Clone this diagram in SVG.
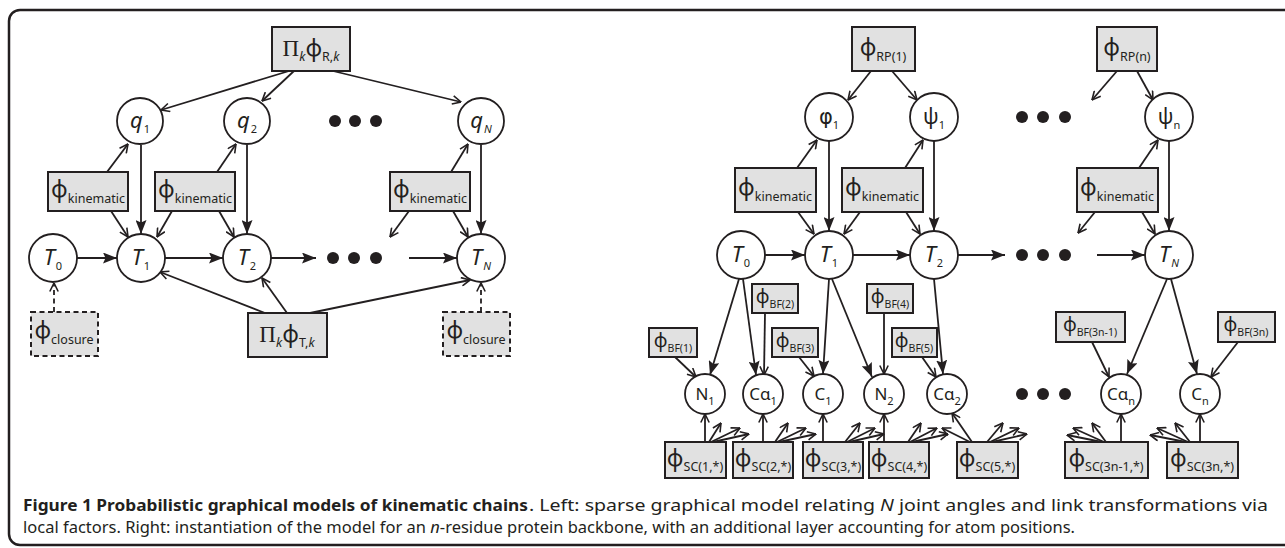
<svg xmlns="http://www.w3.org/2000/svg" width="1285" height="548" viewBox="0 0 1285 548">
<style>
text{font-family:"Noto Sans","Open Sans",sans-serif;fill:#231f20}
.ln{stroke:#231f20;stroke-width:1.8;fill:none}
.o{marker-end:url(#ao)}
.f{marker-end:url(#af)}
.d{stroke-dasharray:5 3.5}
.cir{fill:#fff;stroke:#231f20;stroke-width:1.8}
.box{fill:#e1e1e1;stroke:#231f20;stroke-width:2}
.dbox{fill:#e1e1e1;stroke:#231f20;stroke-width:2;stroke-dasharray:5 3.5}
.ph{font-size:23px}
.phs{font-size:19px}
.sb{font-size:12.5px}
.sbs{font-size:10.5px}
.var{font-size:22px;font-style:italic}
.gv{font-size:21px}
.gf{font-size:21px;font-family:"DejaVu Sans",sans-serif}
.at{font-size:17px}
.n{font-size:11px}
.it{font-style:italic}
.pi{font-family:"Liberation Serif",serif;font-size:23px}
.dot{fill:#231f20}
</style>
<defs>
<marker id="ao" viewBox="0 0 10 10" refX="9.5" refY="5" markerWidth="10" markerHeight="10" markerUnits="userSpaceOnUse" orient="auto">
<path d="M1,0.8 L9.5,5 L1,9.2" fill="none" stroke="#231f20" stroke-width="1.6"/>
</marker>
<marker id="af" viewBox="0 0 14 11" refX="14" refY="5.5" markerWidth="14" markerHeight="11" markerUnits="userSpaceOnUse" orient="auto">
<path d="M0,0 L14,5.5 L0,11 L2.5,5.5 z" fill="#231f20"/>
</marker>
</defs>

<rect x="9" y="10" width="1300" height="535" rx="11" fill="#fff" stroke="#231f20" stroke-width="2.5"/>

<!-- connectors -->
<g id="connectors">
<!-- left -->
<line class="ln o" x1="289" y1="71" x2="161" y2="110"/>
<line class="ln o" x1="294" y1="71" x2="262" y2="101"/>
<line class="ln o" x1="333" y1="71" x2="461" y2="102"/>
<line class="ln o" x1="107" y1="172" x2="128" y2="144"/>
<line class="ln f" x1="141" y1="145" x2="141" y2="234"/>
<line class="ln o" x1="111" y1="211" x2="128" y2="237"/>
<line class="ln o" x1="172" y1="211" x2="157" y2="237"/>
<line class="ln o" x1="217" y1="172" x2="236" y2="144"/>
<line class="ln f" x1="247" y1="145" x2="247" y2="234"/>
<line class="ln o" x1="219" y1="211" x2="234" y2="237"/>
<line class="ln o" x1="451" y1="172" x2="468" y2="144"/>
<line class="ln o" x1="409" y1="211" x2="390" y2="237"/>
<line class="ln o" x1="453" y1="211" x2="468" y2="237"/>
<line class="ln f" x1="481" y1="145" x2="481" y2="234"/>
<line class="ln f" x1="77" y1="258" x2="117" y2="258"/>
<line class="ln f" x1="165" y1="258" x2="223" y2="258"/>
<line class="ln f" x1="271" y1="258" x2="316" y2="258"/>
<line class="ln f" x1="409" y1="258" x2="457" y2="258"/>
<line class="ln o d" x1="54" y1="312" x2="54" y2="283"/>
<line class="ln o d" x1="481" y1="312" x2="481" y2="283"/>
<line class="ln o" x1="265" y1="313" x2="160" y2="272"/>
<line class="ln o" x1="287" y1="313" x2="262" y2="278"/>
<line class="ln o" x1="310" y1="313" x2="470" y2="280"/>
<!-- right top -->
<line class="ln o" x1="871" y1="71" x2="848" y2="100"/>
<line class="ln o" x1="892" y1="71" x2="917" y2="100"/>
<line class="ln o" x1="797" y1="168" x2="817" y2="140"/>
<line class="ln f" x1="829" y1="141" x2="829" y2="231"/>
<line class="ln o" x1="798" y1="212" x2="814" y2="234"/>
<line class="ln o" x1="860" y1="212" x2="844" y2="234"/>
<line class="ln o" x1="905" y1="168" x2="923" y2="140"/>
<line class="ln f" x1="934" y1="141" x2="934" y2="231"/>
<line class="ln o" x1="906" y1="212" x2="920" y2="234"/>
<line class="ln o" x1="1117" y1="71" x2="1092" y2="100"/>
<line class="ln o" x1="1137" y1="71" x2="1153" y2="100"/>
<line class="ln o" x1="1139" y1="168" x2="1158" y2="140"/>
<line class="ln f" x1="1169" y1="141" x2="1169" y2="231"/>
<line class="ln o" x1="1095" y1="212" x2="1078" y2="233"/>
<line class="ln o" x1="1142" y1="212" x2="1155" y2="234"/>
<line class="ln f" x1="765" y1="255" x2="805" y2="255"/>
<line class="ln f" x1="853" y1="255" x2="910" y2="255"/>
<line class="ln f" x1="958" y1="255" x2="1005" y2="255"/>
<line class="ln f" x1="1097" y1="255" x2="1145" y2="255"/>
<!-- right lower -->
<line class="ln f" x1="739" y1="279" x2="710" y2="375"/>
<line class="ln f" x1="743" y1="279" x2="756" y2="375"/>
<line class="ln o" x1="765" y1="313" x2="764" y2="375"/>
<line class="ln o" x1="675" y1="357" x2="696" y2="377"/>
<line class="ln f" x1="829" y1="279" x2="823" y2="374"/>
<line class="ln f" x1="832" y1="279" x2="872" y2="377"/>
<line class="ln o" x1="799" y1="357" x2="814" y2="376"/>
<line class="ln o" x1="884" y1="313" x2="884" y2="374"/>
<line class="ln o" x1="922" y1="357" x2="936" y2="377"/>
<line class="ln f" x1="934" y1="279" x2="943" y2="374"/>
<line class="ln f" x1="1167" y1="279" x2="1127" y2="374"/>
<line class="ln f" x1="1171" y1="279" x2="1197" y2="374"/>
<line class="ln o" x1="1092" y1="342" x2="1109" y2="377"/>
<line class="ln o" x1="1238" y1="342" x2="1211" y2="377"/>
<!-- side-chain factors -->
<line class="ln o" x1="705" y1="442" x2="705" y2="414"/>
<line class="ln o" x1="709" y1="442" x2="721" y2="423"/>
<line class="ln o" x1="711" y1="442" x2="740" y2="428"/>
<line class="ln o" x1="713" y1="442" x2="749" y2="434"/>
<line class="ln o" x1="763" y1="442" x2="763" y2="414"/>
<line class="ln o" x1="775" y1="442" x2="788" y2="423"/>
<line class="ln o" x1="777" y1="442" x2="806" y2="428"/>
<line class="ln o" x1="779" y1="442" x2="816" y2="434"/>
<line class="ln o" x1="823" y1="442" x2="823" y2="414"/>
<line class="ln o" x1="845" y1="442" x2="860" y2="423"/>
<line class="ln o" x1="847" y1="442" x2="875" y2="428"/>
<line class="ln o" x1="849" y1="442" x2="884" y2="434"/>
<line class="ln o" x1="884" y1="442" x2="884" y2="414"/>
<line class="ln o" x1="908" y1="442" x2="921" y2="423"/>
<line class="ln o" x1="910" y1="442" x2="937" y2="428"/>
<line class="ln o" x1="912" y1="442" x2="948" y2="434"/>
<line class="ln o" x1="972" y1="442" x2="952" y2="413"/>
<line class="ln o" x1="970" y1="442" x2="942" y2="428"/>
<line class="ln o" x1="987" y1="442" x2="1003" y2="423"/>
<line class="ln o" x1="990" y1="442" x2="1019" y2="428"/>
<line class="ln o" x1="992" y1="442" x2="1027" y2="434"/>
<line class="ln o" x1="1121" y1="442" x2="1121" y2="414"/>
<line class="ln o" x1="1106" y1="442" x2="1092" y2="423"/>
<line class="ln o" x1="1104" y1="442" x2="1073" y2="428"/>
<line class="ln o" x1="1102" y1="442" x2="1067" y2="435"/>
<line class="ln o" x1="1200" y1="442" x2="1200" y2="414"/>
<line class="ln o" x1="1190" y1="442" x2="1175" y2="423"/>
<line class="ln o" x1="1188" y1="442" x2="1157" y2="428"/>
<line class="ln o" x1="1186" y1="442" x2="1150" y2="435"/>
</g>

<!-- dots -->
<g id="ellipses">
<circle class="dot" cx="335" cy="121" r="6"/><circle class="dot" cx="355" cy="121" r="6"/><circle class="dot" cx="376" cy="121" r="6"/>
<circle class="dot" cx="333" cy="258" r="6"/><circle class="dot" cx="354" cy="258" r="6"/><circle class="dot" cx="376" cy="258" r="6"/>
<circle class="dot" cx="1022" cy="117" r="6"/><circle class="dot" cx="1043" cy="117" r="6"/><circle class="dot" cx="1065" cy="117" r="6"/>
<circle class="dot" cx="1022" cy="255" r="6"/><circle class="dot" cx="1043" cy="255" r="6"/><circle class="dot" cx="1065" cy="255" r="6"/>
<circle class="dot" cx="1022" cy="394" r="6"/><circle class="dot" cx="1043" cy="394" r="6"/><circle class="dot" cx="1065" cy="394" r="6"/>
</g>

<!-- LEFT nodes -->
<g id="L_PR"><rect class="box" x="272" y="27" width="78" height="44"/>
<text x="311" y="56" text-anchor="middle"><tspan class="pi">Π</tspan><tspan class="sb it" dy="5">k</tspan><tspan class="ph" dy="-5">ϕ</tspan><tspan class="sb" dy="5">R,</tspan><tspan class="sb it">k</tspan></text></g>
<g id="L_q1"><circle class="cir" cx="140" cy="121" r="23"/><text x="140" y="128" text-anchor="middle"><tspan class="var">q</tspan><tspan class="n" dx="1" dy="5">1</tspan></text></g>
<g id="L_q2"><circle class="cir" cx="247" cy="121" r="23"/><text x="247" y="128" text-anchor="middle"><tspan class="var">q</tspan><tspan class="n" dx="1" dy="5">2</tspan></text></g>
<g id="L_qN"><circle class="cir" cx="481" cy="121" r="23"/><text x="481" y="128" text-anchor="middle"><tspan class="var">q</tspan><tspan class="n it" dx="1" dy="5">N</tspan></text></g>
<g id="L_k1"><rect class="box" x="48" y="172" width="80" height="39"/><text x="88" y="197" text-anchor="middle"><tspan class="ph">ϕ</tspan><tspan class="sb" dy="6">kinematic</tspan></text></g>
<g id="L_k2"><rect class="box" x="155" y="172" width="80" height="39"/><text x="195" y="197" text-anchor="middle"><tspan class="ph">ϕ</tspan><tspan class="sb" dy="6">kinematic</tspan></text></g>
<g id="L_k3"><rect class="box" x="390" y="172" width="80" height="39"/><text x="430" y="197" text-anchor="middle"><tspan class="ph">ϕ</tspan><tspan class="sb" dy="6">kinematic</tspan></text></g>
<g id="L_T0"><circle class="cir" cx="53" cy="258" r="24"/><text x="53" y="265" text-anchor="middle"><tspan class="var">T</tspan><tspan class="n" dx="1" dy="5">0</tspan></text></g>
<g id="L_T1"><circle class="cir" cx="141" cy="258" r="24"/><text x="141" y="265" text-anchor="middle"><tspan class="var">T</tspan><tspan class="n" dx="1" dy="5">1</tspan></text></g>
<g id="L_T2"><circle class="cir" cx="247" cy="258" r="24"/><text x="247" y="265" text-anchor="middle"><tspan class="var">T</tspan><tspan class="n" dx="1" dy="5">2</tspan></text></g>
<g id="L_TN"><circle class="cir" cx="481" cy="258" r="24"/><text x="481" y="265" text-anchor="middle"><tspan class="var">T</tspan><tspan class="n it" dx="1" dy="5">N</tspan></text></g>
<g id="L_c1"><rect class="dbox" x="31" y="312" width="67" height="44"/><text x="64" y="338" text-anchor="middle"><tspan class="ph">ϕ</tspan><tspan class="sb" dy="6">closure</tspan></text></g>
<g id="L_c2"><rect class="dbox" x="443" y="312" width="67" height="44"/><text x="476" y="338" text-anchor="middle"><tspan class="ph">ϕ</tspan><tspan class="sb" dy="6">closure</tspan></text></g>
<g id="L_PT"><rect class="box" x="248" y="313" width="79" height="44"/>
<text x="287" y="342" text-anchor="middle"><tspan class="pi">Π</tspan><tspan class="sb it" dy="5">k</tspan><tspan class="ph" dy="-5">ϕ</tspan><tspan class="sb" dy="5">T,</tspan><tspan class="sb it">k</tspan></text></g>

<!-- RIGHT nodes -->
<g id="R_RP1"><rect class="box" x="852" y="27" width="63" height="44"/><text x="883" y="55" text-anchor="middle"><tspan class="ph">ϕ</tspan><tspan class="sb" dy="6">RP(1)</tspan></text></g>
<g id="R_RPn"><rect class="box" x="1097" y="27" width="60" height="44"/><text x="1127" y="55" text-anchor="middle"><tspan class="ph">ϕ</tspan><tspan class="sb" dy="6">RP(n)</tspan></text></g>
<g id="R_phi1"><circle class="cir" cx="829" cy="117" r="24"/><text x="829" y="124" text-anchor="middle"><tspan class="gf">φ</tspan><tspan class="n" dy="5">1</tspan></text></g>
<g id="R_psi1"><circle class="cir" cx="934" cy="117" r="24"/><text x="934" y="124" text-anchor="middle"><tspan class="gv">ψ</tspan><tspan class="n" dy="5">1</tspan></text></g>
<g id="R_psin"><circle class="cir" cx="1169" cy="117" r="24"/><text x="1169" y="124" text-anchor="middle"><tspan class="gv">ψ</tspan><tspan class="n" dy="5">n</tspan></text></g>
<g id="R_k1"><rect class="box" x="735" y="168" width="81" height="44"/><text x="775" y="195" text-anchor="middle"><tspan class="ph">ϕ</tspan><tspan class="sb" dy="6">kinematic</tspan></text></g>
<g id="R_k2"><rect class="box" x="842" y="168" width="81" height="44"/><text x="882" y="195" text-anchor="middle"><tspan class="ph">ϕ</tspan><tspan class="sb" dy="6">kinematic</tspan></text></g>
<g id="R_k3"><rect class="box" x="1077" y="168" width="81" height="44"/><text x="1117" y="195" text-anchor="middle"><tspan class="ph">ϕ</tspan><tspan class="sb" dy="6">kinematic</tspan></text></g>
<g id="R_T0"><circle class="cir" cx="741" cy="255" r="24"/><text x="741" y="262" text-anchor="middle"><tspan class="var">T</tspan><tspan class="n" dx="1" dy="5">0</tspan></text></g>
<g id="R_T1"><circle class="cir" cx="829" cy="255" r="24"/><text x="829" y="262" text-anchor="middle"><tspan class="var">T</tspan><tspan class="n" dx="1" dy="5">1</tspan></text></g>
<g id="R_T2"><circle class="cir" cx="934" cy="255" r="24"/><text x="934" y="262" text-anchor="middle"><tspan class="var">T</tspan><tspan class="n" dx="1" dy="5">2</tspan></text></g>
<g id="R_TN"><circle class="cir" cx="1169" cy="255" r="24"/><text x="1169" y="262" text-anchor="middle"><tspan class="var">T</tspan><tspan class="n it" dx="1" dy="5">N</tspan></text></g>

<g id="R_BF1"><rect class="box" x="649" y="328" width="48" height="29"/><text x="673" y="347" text-anchor="middle"><tspan class="phs">ϕ</tspan><tspan class="sbs" dy="5">BF(1)</tspan></text></g>
<g id="R_BF2"><rect class="box" x="752" y="284" width="46" height="29"/><text x="775" y="303" text-anchor="middle"><tspan class="phs">ϕ</tspan><tspan class="sbs" dy="5">BF(2)</tspan></text></g>
<g id="R_BF3"><rect class="box" x="772" y="328" width="46" height="29"/><text x="795" y="347" text-anchor="middle"><tspan class="phs">ϕ</tspan><tspan class="sbs" dy="5">BF(3)</tspan></text></g>
<g id="R_BF4"><rect class="box" x="867" y="284" width="46" height="29"/><text x="890" y="303" text-anchor="middle"><tspan class="phs">ϕ</tspan><tspan class="sbs" dy="5">BF(4)</tspan></text></g>
<g id="R_BF5"><rect class="box" x="892" y="328" width="45" height="29"/><text x="914" y="347" text-anchor="middle"><tspan class="phs">ϕ</tspan><tspan class="sbs" dy="5">BF(5)</tspan></text></g>
<g id="R_BF3n1"><rect class="box" x="1056" y="312" width="69" height="30"/><text x="1090" y="331" text-anchor="middle"><tspan class="phs">ϕ</tspan><tspan class="sbs" dy="5">BF(3n-1)</tspan></text></g>
<g id="R_BF3n"><rect class="box" x="1218" y="312" width="57" height="30"/><text x="1246" y="331" text-anchor="middle"><tspan class="phs">ϕ</tspan><tspan class="sbs" dy="5">BF(3n)</tspan></text></g>

<g id="R_N1"><circle class="cir" cx="705" cy="394" r="20"/><text x="705" y="400" text-anchor="middle"><tspan class="at">N</tspan><tspan class="n" dy="5">1</tspan></text></g>
<g id="R_Ca1"><circle class="cir" cx="763" cy="394" r="20"/><text x="763" y="400" text-anchor="middle"><tspan class="at">Cα</tspan><tspan class="n" dy="5">1</tspan></text></g>
<g id="R_C1"><circle class="cir" cx="823" cy="394" r="20"/><text x="823" y="400" text-anchor="middle"><tspan class="at">C</tspan><tspan class="n" dy="5">1</tspan></text></g>
<g id="R_N2"><circle class="cir" cx="884" cy="394" r="20"/><text x="884" y="400" text-anchor="middle"><tspan class="at">N</tspan><tspan class="n" dy="5">2</tspan></text></g>
<g id="R_Ca2"><circle class="cir" cx="947" cy="394" r="20"/><text x="947" y="400" text-anchor="middle"><tspan class="at">Cα</tspan><tspan class="n" dy="5">2</tspan></text></g>
<g id="R_Can"><circle class="cir" cx="1121" cy="394" r="20"/><text x="1121" y="400" text-anchor="middle"><tspan class="at">Cα</tspan><tspan class="n" dy="5">n</tspan></text></g>
<g id="R_Cn"><circle class="cir" cx="1200" cy="394" r="20"/><text x="1200" y="400" text-anchor="middle"><tspan class="at">C</tspan><tspan class="n" dy="5">n</tspan></text></g>

<g id="R_SC1"><rect class="box" x="665" y="442" width="61" height="36"/><text x="695" y="466" text-anchor="middle"><tspan class="ph">ϕ</tspan><tspan class="sb" dy="5">SC(1,*)</tspan></text></g>
<g id="R_SC2"><rect class="box" x="733" y="442" width="60" height="36"/><text x="763" y="466" text-anchor="middle"><tspan class="ph">ϕ</tspan><tspan class="sb" dy="5">SC(2,*)</tspan></text></g>
<g id="R_SC3"><rect class="box" x="803" y="442" width="60" height="36"/><text x="833" y="466" text-anchor="middle"><tspan class="ph">ϕ</tspan><tspan class="sb" dy="5">SC(3,*)</tspan></text></g>
<g id="R_SC4"><rect class="box" x="869" y="442" width="60" height="36"/><text x="899" y="466" text-anchor="middle"><tspan class="ph">ϕ</tspan><tspan class="sb" dy="5">SC(4,*)</tspan></text></g>
<g id="R_SC5"><rect class="box" x="957" y="442" width="61" height="36"/><text x="987" y="466" text-anchor="middle"><tspan class="ph">ϕ</tspan><tspan class="sb" dy="5">SC(5,*)</tspan></text></g>
<g id="R_SC3n1"><rect class="box" x="1065" y="442" width="83" height="36"/><text x="1106" y="466" text-anchor="middle"><tspan class="ph">ϕ</tspan><tspan class="sb" dy="5">SC(3n-1,*)</tspan></text></g>
<g id="R_SC3n"><rect class="box" x="1167" y="442" width="71" height="36"/><text x="1202" y="466" text-anchor="middle"><tspan class="ph">ϕ</tspan><tspan class="sb" dy="5">SC(3n,*)</tspan></text></g>

<!-- caption -->
<g id="caption" font-size="15.5">
<text x="23" y="511" font-weight="bold" textLength="505" lengthAdjust="spacingAndGlyphs">Figure 1 Probabilistic graphical models of kinematic chains</text>
<text x="529" y="511" textLength="739" lengthAdjust="spacingAndGlyphs">. Left: sparse graphical model relating <tspan class="it">N</tspan> joint angles and link transformations via</text>
<text x="23" y="533" textLength="1052" lengthAdjust="spacingAndGlyphs">local factors. Right: instantiation of the model for an <tspan class="it">n</tspan>-residue protein backbone, with an additional layer accounting for atom positions.</text>
</g>
</svg>
